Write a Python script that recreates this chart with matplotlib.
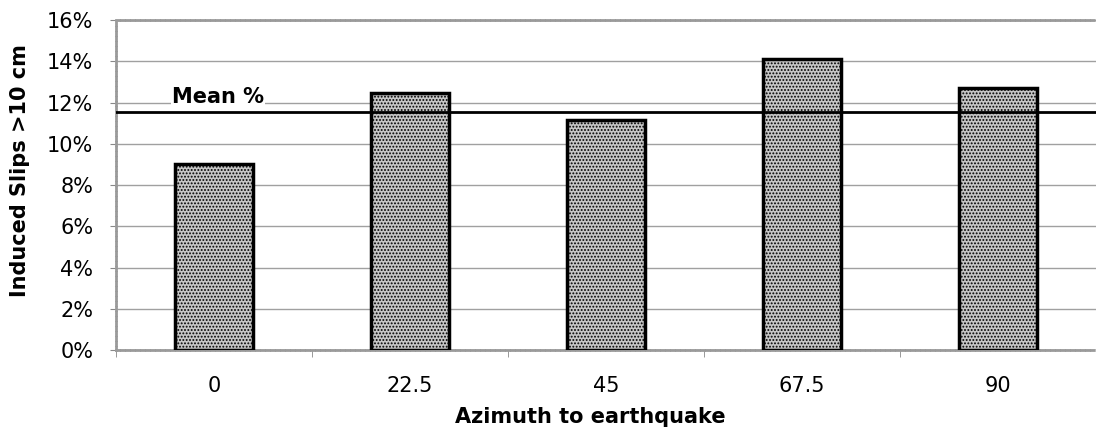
import numpy as np
import matplotlib
matplotlib.use('Agg')
import matplotlib.pyplot as plt
from matplotlib.ticker import PercentFormatter

plt.rcParams['font.family'] = ['DejaVu Sans']
plt.rcParams['hatch.color'] = '#5a5a5a'
plt.rcParams['hatch.linewidth'] = 0.9

# azimuth classes and share of induced slips > 10 cm
azimuths = ['0', '22.5', '45', '67.5', '90']
slips_pct = [9.0, 12.45, 11.15, 14.1, 12.7]
mean_pct = 11.55

fig = plt.figure(figsize=(10.96, 4.36), dpi=100)
ax = fig.add_axes([0.106, 0.197, 0.894, 0.757])

x = np.arange(len(azimuths))
ax.bar(x, slips_pct, width=0.4, facecolor='#c6c6c6', edgecolor='black',
       linewidth=2.5, hatch='.....', zorder=3)

ax.axhline(mean_pct, color='black', linewidth=2, zorder=4)
ax.text(-0.215, 12.0, 'Mean %', fontsize=15, fontweight='bold',
        ha='left', va='baseline', zorder=5,
        bbox=dict(facecolor='white', edgecolor='none', pad=1))

ax.set_xlim(-0.49, 4.5)
ax.set_ylim(0, 16)
ax.set_yticks(np.arange(0, 17, 2))
ax.yaxis.set_major_formatter(PercentFormatter(decimals=0))
ax.grid(axis='y', color='#a0a0a0', linewidth=1, zorder=0)

# category labels centred under bars, tick marks between them
ax.set_xticks(x)
ax.set_xticklabels(azimuths)
ax.set_xticks(np.arange(-0.5, 4.6, 1), minor=True)
ax.tick_params(axis='x', which='major', length=0, pad=19, labelsize=15)
ax.tick_params(axis='x', which='minor', length=5, color='#888888', direction='out')
ax.tick_params(axis='y', length=4.5, color='#888888', direction='out', labelsize=15, pad=12)

ax.spines['right'].set_visible(False)
for side in ['left', 'bottom', 'top']:
    ax.spines[side].set_color('#9a9a9a')
    ax.spines[side].set_linestyle((0, (1, 0.8)))
    ax.spines[side].set_linewidth(2)

ax.set_xlabel('Azimuth to earthquake', fontsize=15, fontweight='bold')
ax.set_ylabel('Induced Slips >10 cm', fontsize=15, fontweight='bold')
ax.xaxis.set_label_coords(0.484, -0.172)
ax.yaxis.set_label_coords(-0.088, 0.545)

fig.savefig('out.png', dpi=100)
